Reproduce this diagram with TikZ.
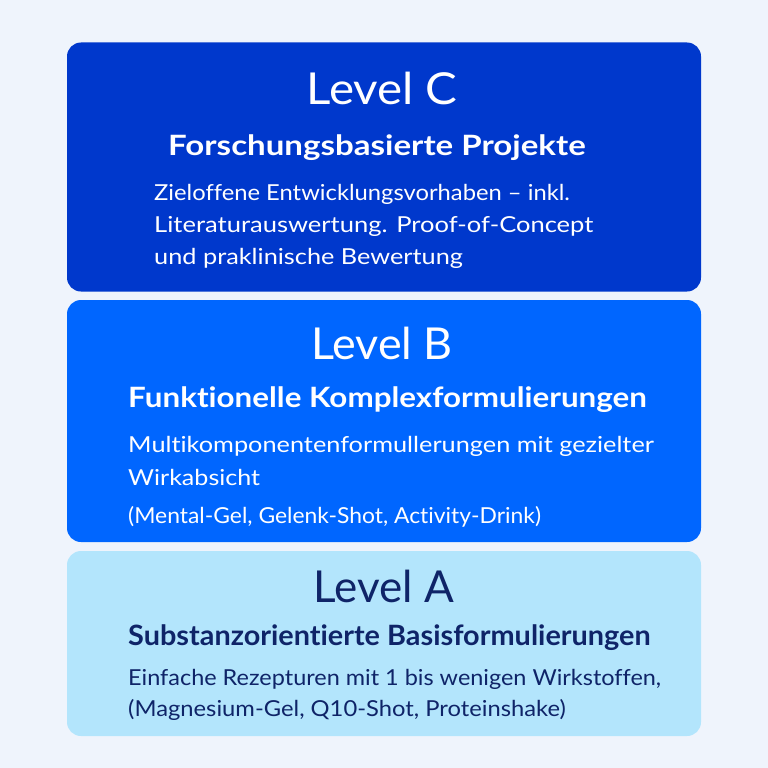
\documentclass[tikz,border=0pt]{standalone}
\usepackage{fontspec}
\setmainfont{Lato}[Ligatures={NoCommon}]
\definecolor{bg}{HTML}{EFF4FC}
\definecolor{cC}{HTML}{0038CC}
\definecolor{cB}{HTML}{0066FF}
\definecolor{cA}{HTML}{B3E5FC}
\definecolor{navy}{HTML}{0F2468}
\tikzset{
  box/.style={rectangle, rounded corners=14pt, inner sep=0pt, draw=none},
  ttl/.style={anchor=base, inner sep=0pt, font=\fontsize{44}{50}\selectfont\addfontfeatures{FakeStretch=#1}},
  ttl/.default=1,
  sub/.style={anchor=base, inner sep=0pt, font=\fontsize{28}{32}\selectfont\bfseries\addfontfeatures{FakeStretch=#1}},
  sub/.default=1,
  subl/.style={anchor=base west, inner sep=0pt, font=\fontsize{28}{32}\selectfont\bfseries\addfontfeatures{FakeStretch=#1}},
  subl/.default=1,
  body/.style={anchor=base west, inner sep=0pt, font=\fontsize{22}{28}\selectfont\addfontfeatures{FakeStretch=#1}},
  body/.default=1.1,
}
\begin{document}
\begin{tikzpicture}[x=1pt,y=-1pt]
\fill[bg] (0,0) rectangle (768,768);
\useasboundingbox (0,0) rectangle (768,768);
% boxes
\node[box, fill=cC, minimum width=634pt, minimum height=249pt] (boxC) at (384,167) {};
\node[box, fill=cB, minimum width=634pt, minimum height=242pt] (boxB) at (384,421) {};
\node[box, fill=cA, minimum width=634pt, minimum height=185pt] (boxA) at (384,643.5) {};
% Level C
\begin{scope}[text=white]
\node[ttl=1.08] (tC) at (382,104) {Level C};
\node[sub=1.18] (sC) at (377,155) {Forschungsbasierte Projekte};
\node[body=1.08] (bC1) at (154,200) {Zieloffene Entwicklungsvorhaben – inkl.};
\node[body=1.16] (bC2) at (154,232) {Literaturauswertung. Proof-of-Concept};
\node[body=1.15] (bC3) at (154,264) {und praklinische Bewertung};
% Level B
\node[ttl=1.02] (tB) at (382,359) {Level B};
\node[subl=1.12] (sB) at (128,407) {Funktionelle Komplexformulierungen};
\node[body=1.15] (bB1) at (128,452) {Multikomponentenformullerungen mit gezielter};
\node[body=1.14] (bB2) at (128,485) {Wirkabsicht};
\node[body=1.04] (bB3) at (128,523) {(Mental-Gel, Gelenk-Shot, Activity-Drink)};
\end{scope}
% Level A
\begin{scope}[text=navy]
\node[ttl=1] (tA) at (384,602) {Level A};
\node[subl=1.03] (sA) at (128,645) {Substanzorientierte Basisformulierungen};
\node[body=1.066] (bA1) at (128,685) {Einfache Rezepturen mit 1 bis wenigen Wirkstoffen,};
\node[body=1.08] (bA2) at (128,716) {(Magnesium-Gel, Q10-Shot, Proteinshake)};
\end{scope}
\end{tikzpicture}
\end{document}
